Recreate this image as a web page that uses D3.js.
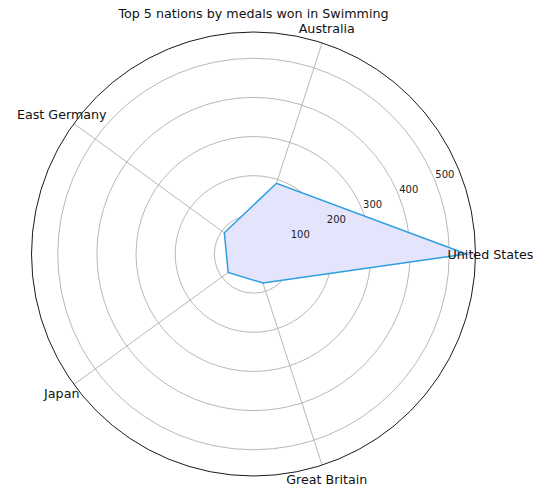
<!DOCTYPE html>
<html>
<head>
<meta charset="utf-8">
<script src="https://cdn.jsdelivr.net/npm/d3@7"></script>
<style>
  html, body { margin: 0; padding: 0; background: #fff; }
  svg { display: block; font-family: "DejaVu Sans", sans-serif; }
</style>
</head>
<body>
<svg id="chart" width="538" height="494"></svg>
<script>
const categories = ["United States", "Australia", "East Germany", "Japan", "Great Britain"];
const medals = [544, 190, 92, 80, 78];
const radialTicks = [100, 200, 300, 400, 500];
const rMaxValue = 567;
const title = "Top 5 nations by medals won in Swimming";

const svg = d3.select("#chart");
const cx = 253.5, cy = 254, R = 222;
const r = d3.scaleLinear().domain([0, rMaxValue]).range([0, R]);
const theta = i => 2 * Math.PI * i / categories.length; // CCW from east
const px = (t, rad) => cx + rad * Math.cos(t);
const py = (t, rad) => cy - rad * Math.sin(t);

const g = svg.append("g");

// grid circles
g.selectAll("circle.grid").data(radialTicks).join("circle")
  .attr("class", "grid")
  .attr("cx", cx).attr("cy", cy)
  .attr("r", d => r(d))
  .attr("fill", "none").attr("stroke", "#b0b0b0").attr("stroke-width", 0.9);

// spokes
g.selectAll("line.spoke").data(categories).join("line")
  .attr("class", "spoke")
  .attr("x1", cx).attr("y1", cy)
  .attr("x2", (d, i) => px(theta(i), R))
  .attr("y2", (d, i) => py(theta(i), R))
  .attr("stroke", "#b0b0b0").attr("stroke-width", 0.9);

// data polygon
const radial = d3.lineRadial()
  .angle((d, i) => Math.PI / 2 - theta(i))
  .radius(d => r(d))
  .curve(d3.curveLinearClosed);

g.append("path")
  .datum(medals)
  .attr("transform", `translate(${cx},${cy})`)
  .attr("d", radial)
  .attr("fill", "rgb(228,228,252)")
  .attr("stroke", "#2d9fe0")
  .attr("stroke-width", 1.5)
  .attr("stroke-linejoin", "miter");

// radial tick labels at 22.5deg
const lt = 22.5 * Math.PI / 180;
g.selectAll("text.rtick").data(radialTicks).join("text")
  .attr("class", "rtick")
  .attr("x", d => px(lt, r(d)) + 1)
  .attr("y", d => py(lt, r(d)) - 1.5)
  .attr("font-size", 10)
  .attr("fill", "#222")
  .text(d => d);

// outer circle
g.append("circle")
  .attr("cx", cx).attr("cy", cy).attr("r", R)
  .attr("fill", "none").attr("stroke", "#000").attr("stroke-width", 0.9);

// category labels
g.selectAll("text.cat").data(categories).join("text")
  .attr("class", "cat")
  .attr("x", (d, i) => px(theta(i), R + 15))
  .attr("y", (d, i) => py(theta(i), R + 15))
  .attr("text-anchor", "middle")
  .attr("dominant-baseline", "central")
  .attr("font-size", 12.7)
  .attr("fill", "#111")
  .text(d => d);

// title
svg.append("text")
  .attr("x", cx).attr("y", 18)
  .attr("text-anchor", "middle")
  .attr("font-size", 12.7)
  .attr("fill", "#111")
  .text(title);
</script>
</body>
</html>
